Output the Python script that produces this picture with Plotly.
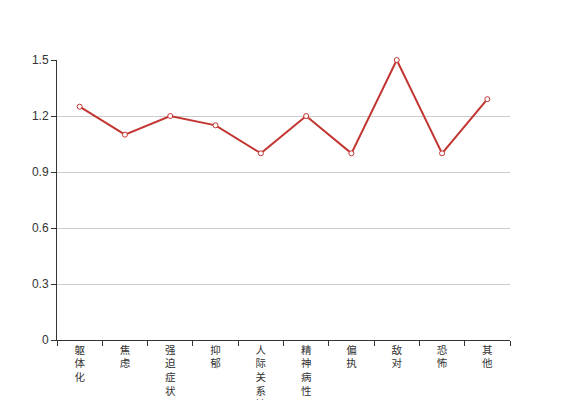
import plotly.graph_objects as go

categories = ["躯体化", "焦虑", "强迫症状", "抑郁", "人际关系敏感", "精神病性", "偏执", "敌对", "恐怖", "其他"]
values = [1.25, 1.1, 1.2, 1.15, 1.0, 1.2, 1.0, 1.5, 1.0, 1.29]
y_ticks = [0, 0.3, 0.6, 0.9, 1.2, 1.5]
y_tick_labels = ["0", "0.3", "0.6", "0.9", "1.2", "1.5"]

vertical_labels = ["<br>".join(list(c)) for c in categories]

red = "#c23531"
fig = go.Figure()
fig.add_trace(go.Scatter(
    x=categories, y=values, mode="lines+markers",
    line=dict(color=red, width=2),
    marker=dict(size=5, color="white", line=dict(color=red, width=1)),
    showlegend=False, hoverinfo="x+y", cliponaxis=False,
))

font_family = "Liberation Sans, Noto Sans CJK SC, sans-serif"
fig.update_layout(
    width=559, height=392,
    margin=dict(l=49, r=57, t=52, b=60, autoexpand=False),
    paper_bgcolor="white", plot_bgcolor="white",
    font=dict(family=font_family, size=12, color="#333"),
    xaxis=dict(
        type="category", range=[-0.5, 9.5],
        tickmode="array", tickvals=categories, ticktext=vertical_labels,
        tickson="boundaries", ticks="outside", ticklen=5, tickcolor="#333",
        showline=True, linecolor="#333", linewidth=1,
        showgrid=False, zeroline=False, automargin=False,
        tickfont=dict(size=10.5, color="#333"), tickangle=0,
    ),
    yaxis=dict(
        range=[0, 1.5], tickmode="array", tickvals=y_ticks, ticktext=y_tick_labels,
        ticks="outside", ticklen=5, tickcolor="#333",
        showline=True, linecolor="#333", linewidth=1,
        showgrid=True, gridcolor="#ccc", gridwidth=1,
        zeroline=False, automargin=False,
        tickfont=dict(size=12, color="#333"),
    ),
)
fig.write_html("out.html")
